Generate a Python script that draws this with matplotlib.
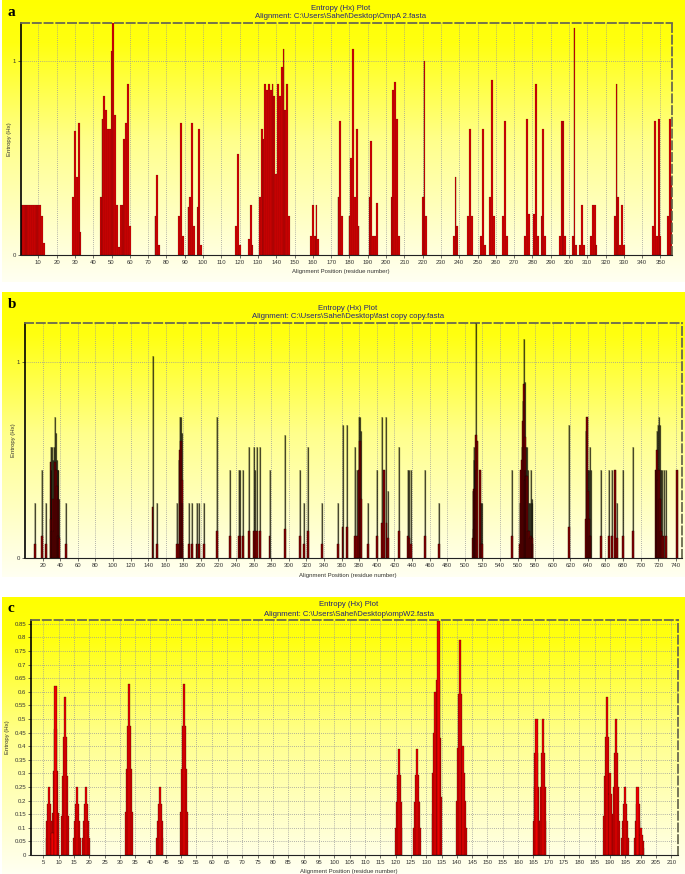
import numpy as np
import matplotlib
matplotlib.use('Agg')
import matplotlib.pyplot as plt
from matplotlib.colors import LinearSegmentedColormap

# ---------------- data ----------------
# Panel a : OmpA 2.fasta
a_pos = [1, 2, 3, 4, 5, 6, 7, 8, 9, 10, 11, 12, 13,
         29, 30, 31, 32, 33,
         44, 45, 46, 47, 48, 49, 50, 51, 52, 53, 54, 55, 56, 57, 58, 59, 60,
         74, 75, 76, 87, 88, 89, 92, 93, 94, 95, 97, 98, 99,
         118, 119, 120, 125, 126, 127,
         131, 132, 133, 134, 135, 136, 137, 138, 139, 140, 141, 142, 143, 144, 145, 146, 147,
         159, 160, 161, 162, 163, 174, 175, 176,
         180, 181, 182, 183, 184, 185, 191, 192, 193, 194, 195,
         203, 204, 205, 206, 207, 220, 221, 222,
         237, 238, 239, 245, 246, 247, 252, 253, 254, 257, 258, 259, 264, 265, 266,
         276, 277, 278, 281, 282, 283, 285, 286, 287, 295, 296, 297, 298,
         302, 303, 304, 306, 307, 308, 312, 313, 314, 315,
         325, 326, 327, 328, 329, 330, 346, 347, 348, 349, 350, 354, 355, 356]
a_hx = [0.26, 0.26, 0.26, 0.26, 0.26, 0.26, 0.26, 0.26, 0.26, 0.26, 0.26, 0.2, 0.06,
        0.3, 0.64, 0.4, 0.68, 0.12,
        0.3, 0.7, 0.82, 0.75, 0.65, 0.65, 1.05, 1.2, 0.72, 0.26, 0.04, 0.26, 0.26, 0.6, 0.68, 0.88, 0.15,
        0.2, 0.41, 0.05, 0.2, 0.68, 0.1, 0.25, 0.3, 0.68, 0.15, 0.25, 0.65, 0.05,
        0.15, 0.52, 0.05, 0.08, 0.26, 0.05,
        0.3, 0.65, 0.6, 0.88, 0.85, 0.88, 0.85, 0.88, 0.82, 0.42, 0.88, 0.82, 0.97, 1.06, 0.75, 0.88, 0.2,
        0.1, 0.26, 0.1, 0.26, 0.08, 0.3, 0.69, 0.2,
        0.2, 0.5, 1.06, 0.3, 0.65, 0.15, 0.3, 0.59, 0.1, 0.1, 0.27,
        0.3, 0.85, 0.89, 0.7, 0.1, 0.3, 1.0, 0.2,
        0.1, 0.4, 0.15, 0.2, 0.65, 0.2, 0.1, 0.65, 0.05, 0.3, 0.9, 0.2, 0.2, 0.69, 0.1,
        0.1, 0.7, 0.21, 0.21, 0.88, 0.1, 0.2, 0.65, 0.1, 0.1, 0.69, 0.69, 0.1,
        0.1, 1.17, 0.05, 0.05, 0.26, 0.05, 0.1, 0.26, 0.26, 0.05,
        0.2, 0.88, 0.3, 0.05, 0.26, 0.05, 0.15, 0.69, 0.1, 0.7, 0.1, 0.2, 0.7, 0.4]

# Panel b : fast copy copy.fasta  (line height, red-fill height)
b_pos = [11, 19, 24, 29, 30, 31, 32, 33, 34, 35, 36, 37, 38, 39, 47,
         145, 150, 173, 175, 176, 177, 178, 179, 186, 190, 195, 198, 203,
         218, 233, 243, 245, 248, 255, 260, 262, 264, 267, 278, 296,
         313, 317, 322, 338, 356, 361, 366, 375, 378, 380, 381, 382, 390,
         400, 406, 408, 411, 413, 425, 435, 437, 439, 455, 471,
         509, 510, 511, 512, 513, 514, 517, 518, 520, 554,
         563, 564, 565, 566, 567, 568, 569, 570, 571, 572, 573, 574, 575, 576, 577,
         618, 638, 639, 640, 641, 642, 643, 655, 664, 667, 671, 673, 680, 691,
         717, 718, 719, 720, 721, 722, 723, 724, 726, 729, 741]
b_hx = [0.28, 0.45, 0.28, 0.565, 0.45, 0.565, 0.5, 0.565, 0.72, 0.64, 0.5, 0.45, 0.45, 0.3, 0.28,
        1.03, 0.28, 0.28, 0.5, 0.72, 0.72, 0.64, 0.28, 0.28, 0.28, 0.28, 0.28, 0.28,
        0.72, 0.45, 0.45, 0.45, 0.45, 0.565, 0.565, 0.45, 0.565, 0.565, 0.45, 0.63,
        0.45, 0.28, 0.565, 0.28, 0.28, 0.68, 0.68, 0.565, 0.45, 0.72, 0.72, 0.65, 0.28,
        0.45, 0.72, 0.45, 0.72, 0.34, 0.565, 0.45, 0.45, 0.45, 0.45, 0.28,
        0.34, 0.565, 0.5, 0.45, 1.2, 0.6, 0.45, 0.28, 0.28, 0.45,
        0.28, 0.45, 0.565, 0.8, 1.12, 0.9, 0.45, 0.565, 0.565, 0.45, 0.28, 0.28, 0.45, 0.3, 0.28,
        0.68, 0.65, 0.72, 0.45, 0.45, 0.565, 0.45, 0.45, 0.45, 0.45, 0.45, 0.28, 0.45, 0.565,
        0.45, 0.45, 0.65, 0.68, 0.72, 0.68, 0.45, 0.45, 0.45, 0.45, 0.45]
b_red = [0.07, 0.11, 0.07, 0.49, 0.2, 0.14, 0.3, 0.14, 0.49, 0.45, 0.37, 0.3, 0.11, 0.1, 0.07,
         0.26, 0.07, 0.07, 0.07, 0.55, 0.6, 0.4, 0.07, 0.07, 0.07, 0.07, 0.07, 0.07,
         0.14, 0.11, 0.11, 0.11, 0.11, 0.14, 0.14, 0.14, 0.14, 0.14, 0.11, 0.15,
         0.11, 0.07, 0.14, 0.07, 0.07, 0.16, 0.16, 0.11, 0.11, 0.45, 0.6, 0.3, 0.07,
         0.11, 0.18, 0.45, 0.18, 0.1, 0.14, 0.11, 0.1, 0.07, 0.11, 0.07,
         0.1, 0.35, 0.15, 0.2, 0.63, 0.6, 0.45, 0.07, 0.07, 0.11,
         0.07, 0.45, 0.5, 0.7, 0.89, 0.62, 0.4, 0.42, 0.42, 0.14, 0.14, 0.1, 0.11, 0.1, 0.07,
         0.16, 0.2, 0.72, 0.34, 0.2, 0.11, 0.11, 0.11, 0.11, 0.11, 0.45, 0.1, 0.11, 0.14,
         0.45, 0.45, 0.55, 0.4, 0.45, 0.3, 0.14, 0.11, 0.11, 0.11, 0.45]

# Panel c : ompW2.fasta
c_pos = [7, 8, 9, 12, 16, 19, 33, 43, 51, 121, 127, 133, 134, 141, 142,
         166, 168, 189, 190, 192, 195, 199, 200]
c_hx = [0.25, 0.08, 0.62, 0.58, 0.25, 0.25, 0.63, 0.25, 0.63, 0.39, 0.39, 0.6, 0.86, 0.79, 0.4,
        0.5, 0.5, 0.58, 0.3, 0.5, 0.25, 0.25, 0.1]

titles = ["OmpA 2.fasta", "fast copy copy.fasta", "ompW2.fasta"]
a_xticks = list(range(10, 351, 10))
b_xticks = list(range(20, 741, 20))
c_xticks = list(range(5, 211, 5))
c_yticks = [round(0.05 * i, 2) for i in range(18)]

# ---------------- layout helpers ----------------
W, H = 685, 874
fig = plt.figure(figsize=(W / 100, H / 100), dpi=100)
fig.patch.set_facecolor('white')


def rect(l, t, r, b):
    return [l / W, 1 - b / H, (r - l) / W, (b - t) / H]


grad = LinearSegmentedColormap.from_list(
    'g', [(0, '#ffff00'), (0.15, '#ffff10'), (0.5, '#ffff8c'), (1, '#fffff2')])

SANS = ['Liberation Sans', 'DejaVu Sans']
TCOL = '#22227a'


def panel(letter, bg_t, bg_b, ax_l, ax_t, ax_r, ax_b, fname, ylab_x):
    bg = fig.add_axes(rect(2, bg_t, 685, bg_b), zorder=0)
    bg.imshow(np.linspace(0, 1, 256)[:, None], aspect='auto', cmap=grad,
              extent=[0, 1, 0, 1])
    bg.axis('off')
    ax = fig.add_axes(rect(ax_l, ax_t, ax_r, ax_b), zorder=1)
    ax.patch.set_alpha(0)
    ax.set_axisbelow(True)
    for s in ('top', 'right'):
        ax.spines[s].set_linestyle((0, (4.5, 2)))
        ax.spines[s].set_color('#6a6a50')
        ax.spines[s].set_linewidth(1.3)
    ax.spines['left'].set_linewidth(1.2)
    ax.spines['left'].set_color('black')
    ax.spines['bottom'].set_linewidth(0.8)
    ax.spines['bottom'].set_color('#222222')
    ax.grid(True, color='#9a9a9a', linestyle=(0, (1, 1.5)), linewidth=0.6)
    ax.tick_params(labelsize=4.3, colors='#333333', length=2, width=0.5, pad=1.5)
    cx = (ax_l + ax_r) / 2 / W
    fig.text(cx - 0.008, 1 - (ax_t - 15) / H, "Entropy (Hx) Plot", ha='center', va='center',
             fontsize=5.6, color=TCOL, family=SANS)
    fig.text(cx - 0.008, 1 - (ax_t - 6) / H,
             "Alignment: C:\\Users\\Sahel\\Desktop\\" + fname, ha='center', va='center',
             fontsize=5.6, color=TCOL, family=SANS)
    fig.text(8 / W, 1 - (bg_t + 12) / H, letter, ha='left', va='center',
             fontsize=11, fontweight='bold', family=['Liberation Serif', 'DejaVu Serif'])
    fig.text(cx - 0.008, 1 - (ax_b + 17) / H, "Alignment Position (residue number)",
             ha='center', va='center', fontsize=4.3, color='#333333', family=SANS)
    fig.text(ylab_x / W, 1 - (ax_t + ax_b) / 2 / H, "Entropy (Hx)", rotation=90,
             ha='center', va='center', fontsize=4.3, color='#333333', family=SANS)
    return ax


def set_ticks(ax, xt, yt, ylabels=None):
    ax.set_xticks(xt)
    ax.set_xticklabels([str(v) for v in xt], family=SANS)
    ax.set_yticks(yt)
    ax.set_yticklabels(ylabels if ylabels else ['%g' % v for v in yt], family=SANS)


RED = '#ee0000'

# ---------------- panel a ----------------
axa = panel('a', 0, 282, 21, 23, 672, 255, titles[0], 9)
axa.bar(a_pos, a_hx, width=1.0, color=RED, edgecolor='#3a0000', linewidth=0.1, zorder=2)
axa.vlines(a_pos, 0, a_hx, color='#111111', linewidth=0.25, alpha=0.8, zorder=3)
axa.set_xlim(0.5, 356.3)
axa.set_ylim(0, 1.196)
set_ticks(axa, a_xticks, [0, 1])

# ---------------- panel b ----------------
axb = panel('b', 292, 577, 25, 323, 682, 558, titles[1], 13)
axb.vlines(b_pos, 0, b_hx, color='#2a2a10', linewidth=0.9, alpha=0.75, zorder=2)
axb.bar(b_pos, b_red, width=2.2, color='#b00000', edgecolor='#300000', linewidth=0.3, zorder=3)
axb.vlines(b_pos, 0, b_hx, color='black', linewidth=0.35, zorder=4)
axb.set_xlim(0, 747)
axb.set_ylim(0, 1.2)
set_ticks(axb, b_xticks, [0, 1])

# ---------------- panel c ----------------
axc = panel('c', 597, 874, 31, 620, 678, 855, titles[2], 8)
c_pos_arr = np.asarray(c_pos, dtype=float)
c_hx_arr = np.asarray(c_hx)
for frac, wdt in [(0.25, 2.5), (0.5, 1.9), (0.75, 1.3), (1.0, 0.7)]:
    axc.bar(c_pos_arr, c_hx_arr * frac, width=wdt, color=RED, edgecolor='#200000',
            linewidth=0.2, zorder=2)
axc.set_xlim(1, 212.2)
axc.set_ylim(0, 0.864)
set_ticks(axc, c_xticks, c_yticks)

fig.savefig('out.png', dpi=100, facecolor='white')
